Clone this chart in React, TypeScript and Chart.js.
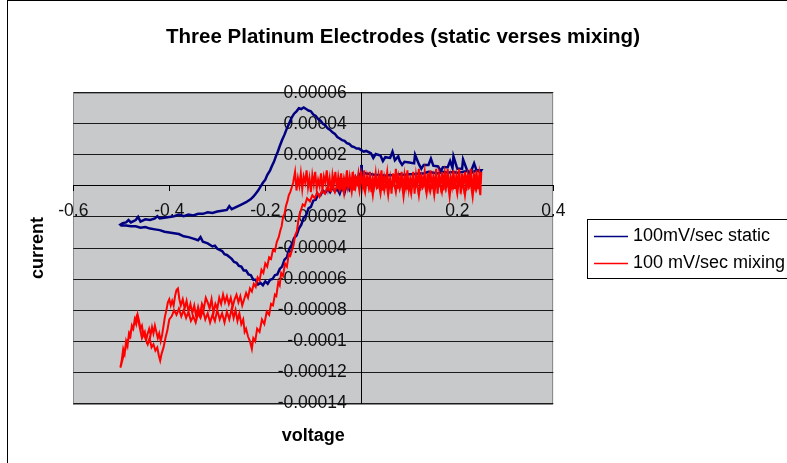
import React, { useEffect, useRef } from 'react';
import { Chart, registerables } from 'chart.js';

Chart.register(...registerables);

const TITLE = 'Three Platinum Electrodes (static verses mixing)';
const X_TITLE = 'voltage';
const Y_TITLE = 'current';
const SERIES_LABELS = ['100mV/sec static', '100 mV/sec mixing'];
const SERIES_COLORS = ['#000080', '#FF0000'];

// current values below are in units of 1e-5 (A)
const CURRENT_UNIT = 1e-5;

const xTickValues = [-0.6, -0.4, -0.2, 0, 0.2, 0.4];
const xTickLabels = ['-0.6', '-0.4', '-0.2', '0', '0.2', '0.4'];
const yTickValues = [-0.00014, -0.00012, -0.0001, -0.00008, -0.00006, -0.00004, -0.00002, 0, 0.00002, 0.00004, 0.00006];
const yTickLabels = ['-0.00014', '-0.00012', '-0.0001', '-0.00008', '-0.00006', '-0.00004', '-0.00002', '0', '0.00002', '0.00004', '0.00006'];

// static: negative-going sweep from 0 V to -0.5 V
const staticCathodic: [number, number][] = [
  [0.0, 1.35], [0.001, 0.45], [-0.004, 0.7], [-0.008, 0.3], [-0.012, 0.55], [-0.016, 0.1], [-0.02, 0.35], [-0.025, -0.2],
  [-0.03, 0.15], [-0.035, -0.45], [-0.04, -0.05], [-0.045, -0.5], [-0.05, -0.2], [-0.055, -0.35], [-0.06, -0.1], [-0.065, -0.4],
  [-0.07, -0.2], [-0.075, -0.45], [-0.08, -0.3], [-0.085, -0.6], [-0.09, -0.55], [-0.095, -0.9], [-0.1, -0.95], [-0.105, -1.35],
  [-0.11, -1.45], [-0.115, -1.9], [-0.12, -2.05], [-0.125, -2.5], [-0.13, -2.75], [-0.135, -3.2], [-0.14, -3.35], [-0.145, -3.8],
  [-0.15, -4.05], [-0.155, -4.6], [-0.16, -4.75], [-0.165, -5.2], [-0.17, -5.35], [-0.175, -5.7], [-0.18, -5.75], [-0.185, -6.0],
  [-0.19, -6.05], [-0.195, -6.3], [-0.2, -6.15], [-0.205, -6.4], [-0.21, -6.25], [-0.215, -6.35], [-0.22, -6.05], [-0.225, -6.05],
  [-0.23, -5.75], [-0.235, -5.7], [-0.24, -5.45], [-0.245, -5.45], [-0.25, -5.2], [-0.255, -5.15], [-0.26, -4.95], [-0.265, -4.9],
  [-0.27, -4.7], [-0.28, -4.45], [-0.285, -4.4], [-0.29, -4.2], [-0.3, -4.05], [-0.305, -3.85], [-0.31, -3.9], [-0.32, -3.7],
  [-0.33, -3.6], [-0.335, -3.3], [-0.34, -3.5], [-0.35, -3.4], [-0.36, -3.3], [-0.37, -3.25], [-0.38, -3.1], [-0.39, -3.05],
  [-0.4, -3.0], [-0.41, -2.95], [-0.42, -2.85], [-0.43, -2.8], [-0.44, -2.75], [-0.45, -2.65], [-0.46, -2.7], [-0.47, -2.6],
  [-0.48, -2.6], [-0.49, -2.55], [-0.5, -2.55], [-0.502, -2.5],
];

// static: positive-going sweep from -0.5 V to 0.25 V
const staticAnodic: [number, number][] = [
  [-0.497, -2.4], [-0.49, -2.35], [-0.485, -2.2], [-0.48, -2.35], [-0.47, -2.2], [-0.465, -2.0], [-0.46, -2.3], [-0.45, -2.15],
  [-0.44, -2.2], [-0.43, -2.1], [-0.425, -1.95], [-0.42, -2.1], [-0.41, -2.05], [-0.4, -2.0], [-0.39, -1.95], [-0.38, -1.85],
  [-0.37, -1.95], [-0.36, -1.85], [-0.35, -1.9], [-0.34, -1.8], [-0.33, -1.8], [-0.32, -1.7], [-0.31, -1.75], [-0.3, -1.65],
  [-0.29, -1.6], [-0.28, -1.55], [-0.275, -1.3], [-0.27, -1.5], [-0.26, -1.35], [-0.25, -1.2], [-0.24, -1.05], [-0.23, -0.85],
  [-0.225, -0.7], [-0.22, -0.5], [-0.215, -0.3], [-0.21, -0.05], [-0.205, 0.2], [-0.2, 0.4], [-0.196, 0.7], [-0.19, 1.0],
  [-0.186, 1.3], [-0.182, 1.55], [-0.178, 1.9], [-0.174, 2.2], [-0.17, 2.55], [-0.165, 2.95], [-0.16, 3.3], [-0.155, 3.7],
  [-0.15, 4.05], [-0.145, 4.4], [-0.14, 4.65], [-0.135, 4.8], [-0.13, 5.0], [-0.125, 4.95], [-0.12, 5.05], [-0.115, 4.95],
  [-0.11, 4.85], [-0.105, 4.8], [-0.1, 4.6], [-0.095, 4.5], [-0.09, 4.3], [-0.085, 4.2], [-0.08, 4.0], [-0.075, 3.9],
  [-0.07, 3.7], [-0.065, 3.6], [-0.06, 3.45], [-0.055, 3.35], [-0.05, 3.15], [-0.045, 3.05], [-0.04, 2.95], [-0.035, 2.9],
  [-0.03, 2.75], [-0.025, 2.7], [-0.02, 2.55], [-0.015, 2.5], [-0.01, 2.4], [-0.005, 2.4], [0.0, 2.3], [0.005, 2.2],
  [0.01, 2.25], [0.02, 2.1], [0.025, 1.8], [0.03, 2.05], [0.04, 1.95], [0.045, 1.6], [0.05, 1.85], [0.06, 1.8], [0.065, 2.2], [0.07, 1.65],
  [0.077, 1.9], [0.08, 1.6], [0.085, 1.35], [0.09, 1.55], [0.1, 1.5], [0.11, 1.45], [0.112, 2.0], [0.12, 1.4], [0.125, 1.1], [0.13, 1.35],
  [0.14, 1.35], [0.145, 1.75], [0.15, 1.3], [0.16, 1.25], [0.165, 0.95], [0.17, 1.2], [0.18, 1.2], [0.185, 1.6], [0.19, 1.15], [0.192, 1.9], [0.2, 1.1],
  [0.21, 1.1], [0.212, 1.7], [0.22, 1.05], [0.225, 0.8], [0.23, 1.05], [0.235, 1.45], [0.24, 1.0], [0.25, 1.0],
];

// static: return from 0.25 V to 0 V
const staticReturn: [number, number][] = [
  [0.248, 0.9], [0.24, 1.0], [0.23, 0.85], [0.22, 0.95], [0.21, 0.9], [0.2, 0.85], [0.19, 0.9], [0.18, 0.85],
  [0.17, 0.9], [0.16, 0.8], [0.15, 0.85], [0.14, 0.9], [0.13, 0.8], [0.12, 0.8], [0.11, 0.75], [0.1, 0.75],
  [0.09, 0.7], [0.08, 0.75], [0.07, 0.65], [0.06, 0.7], [0.05, 0.65], [0.04, 0.7], [0.03, 0.7], [0.02, 0.75],
  [0.01, 0.8], [0.004, 0.85],
];

// mixing: negative-going sweep from 0 V to -0.5 V
const mixingCathodic: [number, number][] = [
  [0.0, 0.9], [-0.004, -0.3], [-0.008, 0.5], [-0.012, -0.1], [-0.016, 0.6], [-0.02, -0.4], [-0.024, 0.3], [-0.028, -0.2],
  [-0.032, 0.4], [-0.036, -0.5], [-0.04, 0.2], [-0.045, -0.3], [-0.05, 0.1], [-0.055, -0.4], [-0.06, 0.0], [-0.065, -0.3],
  [-0.071, -0.1], [-0.076, -0.5], [-0.082, -0.3], [-0.087, -0.7], [-0.092, -0.4], [-0.097, -0.8], [-0.102, -0.6], [-0.107, -1.0],
  [-0.113, -0.8], [-0.118, -1.3], [-0.122, -1.2], [-0.127, -1.7], [-0.131, -2.2], [-0.134, -2.9], [-0.138, -3.2], [-0.141, -3.8],
  [-0.144, -4.1], [-0.148, -4.5], [-0.151, -4.4], [-0.155, -5.2], [-0.159, -5.0], [-0.163, -5.8], [-0.167, -5.6], [-0.17, -6.4],
  [-0.173, -6.2], [-0.177, -7.1], [-0.18, -7.0], [-0.184, -7.7], [-0.188, -7.6], [-0.192, -8.3], [-0.197, -8.1], [-0.202, -8.9],
  [-0.207, -8.6], [-0.212, -9.4], [-0.217, -9.2], [-0.221, -10.0], [-0.225, -9.8], [-0.228, -10.5], [-0.232, -10.0], [-0.236, -9.7],
  [-0.24, -9.2], [-0.243, -9.4], [-0.246, -8.6], [-0.25, -8.9], [-0.254, -8.2], [-0.258, -8.7], [-0.262, -8.0], [-0.266, -8.5],
  [-0.27, -7.9], [-0.275, -8.6], [-0.28, -8.1], [-0.285, -8.8], [-0.29, -8.2], [-0.295, -8.6], [-0.3, -8.0], [-0.305, -8.7],
  [-0.31, -8.3], [-0.315, -8.8], [-0.32, -8.2], [-0.325, -8.6], [-0.33, -8.0], [-0.335, -8.5], [-0.34, -8.2], [-0.345, -8.8],
  [-0.35, -8.4], [-0.355, -8.7], [-0.36, -8.1], [-0.365, -8.5], [-0.37, -8.0], [-0.375, -8.4], [-0.38, -7.9], [-0.385, -8.3],
  [-0.39, -8.0], [-0.395, -8.4], [-0.4, -8.6], [-0.404, -9.3], [-0.408, -9.8], [-0.412, -10.4], [-0.416, -10.8], [-0.419, -11.25],
  [-0.422, -10.9], [-0.425, -10.4], [-0.429, -10.6], [-0.433, -10.2], [-0.437, -10.4], [-0.441, -9.8], [-0.445, -10.2], [-0.449, -9.9],
  [-0.453, -9.5], [-0.457, -9.8], [-0.461, -9.2], [-0.465, -8.6], [-0.468, -8.4], [-0.472, -8.8], [-0.476, -9.2], [-0.48, -9.3],
  [-0.484, -9.8], [-0.488, -10.0], [-0.492, -10.6], [-0.496, -11.0], [-0.5, -11.5], [-0.502, -11.7],
];

// mixing: positive-going sweep from -0.5 V up the steep rise
const mixingAnodic: [number, number][] = [
  [-0.499, -11.2], [-0.496, -10.5], [-0.493, -10.8], [-0.49, -10.0], [-0.487, -10.3], [-0.484, -9.5], [-0.481, -9.7], [-0.478, -9.0],
  [-0.475, -9.2], [-0.472, -8.6], [-0.469, -8.9], [-0.466, -8.3], [-0.463, -8.7], [-0.46, -9.2], [-0.457, -9.0], [-0.454, -9.6],
  [-0.451, -9.4], [-0.448, -9.9], [-0.445, -9.5], [-0.442, -9.2], [-0.439, -9.6], [-0.436, -9.1], [-0.433, -9.5], [-0.43, -9.0],
  [-0.427, -9.4], [-0.424, -9.8], [-0.421, -9.5], [-0.418, -10.0], [-0.415, -9.6], [-0.412, -9.0], [-0.409, -8.4], [-0.406, -8.0],
  [-0.403, -7.5], [-0.4, -7.3], [-0.397, -7.7], [-0.394, -7.4], [-0.391, -7.7], [-0.388, -7.1], [-0.385, -6.7], [-0.382, -6.6],
  [-0.379, -7.3], [-0.376, -7.7], [-0.372, -7.3], [-0.368, -7.9], [-0.364, -7.4], [-0.36, -8.1], [-0.356, -7.6], [-0.352, -8.2],
  [-0.348, -7.7], [-0.344, -8.4], [-0.34, -7.8], [-0.336, -8.3], [-0.332, -7.6], [-0.328, -7.9], [-0.324, -7.2], [-0.32, -7.5],
  [-0.316, -7.9], [-0.312, -7.3], [-0.308, -8.2], [-0.304, -7.6], [-0.3, -7.9], [-0.296, -7.2], [-0.292, -7.6], [-0.288, -7.0],
  [-0.284, -7.5], [-0.28, -7.1], [-0.276, -7.6], [-0.272, -7.2], [-0.268, -7.8], [-0.264, -7.3], [-0.26, -7.0], [-0.256, -7.5],
  [-0.252, -7.1], [-0.248, -7.7], [-0.244, -7.3], [-0.24, -6.9], [-0.236, -7.2], [-0.232, -6.6], [-0.228, -6.8], [-0.224, -6.3],
  [-0.22, -6.5], [-0.216, -5.9], [-0.212, -6.1], [-0.208, -5.4], [-0.204, -5.6], [-0.2, -5.0], [-0.196, -5.2], [-0.192, -4.6],
  [-0.188, -4.7], [-0.184, -4.1], [-0.18, -4.2], [-0.176, -3.6], [-0.172, -3.3], [-0.169, -2.9], [-0.166, -2.6], [-0.163, -2.0],
  [-0.16, -1.8], [-0.157, -1.3], [-0.154, -1.0], [-0.151, -0.6], [-0.148, -0.4], [-0.145, -0.1], [-0.142, 0.2],
];

// mixing: noisy plateau from -0.14 V to 0.25 V
const mixingPlateau: [number, number][] = [
  [-0.138, 0.9], [-0.135, -0.3], [-0.132, 0.5], [-0.129, 0.0], [-0.126, 0.8], [-0.123, -0.2], [-0.12, 0.6], [-0.117, 0.2],
  [-0.114, 1.0], [-0.111, -0.1], [-0.108, 0.5], [-0.105, -0.4], [-0.102, 0.7], [-0.099, 0.1], [-0.096, 0.9], [-0.093, -0.2],
  [-0.09, 0.4], [-0.087, 0.0], [-0.084, 0.8], [-0.081, -0.3], [-0.078, 0.6], [-0.075, 0.2], [-0.072, 1.0], [-0.069, -0.1],
  [-0.066, 0.5], [-0.063, -0.4], [-0.06, 0.7], [-0.057, 0.1], [-0.054, 0.9], [-0.051, -0.2], [-0.048, 0.6], [-0.045, 0.0],
  [-0.042, 0.8], [-0.039, -0.3], [-0.036, 0.5], [-0.033, 0.1], [-0.03, 1.0], [-0.027, -0.2], [-0.024, 0.6], [-0.021, 0.0],
  [-0.018, 0.9], [-0.015, -0.3], [-0.012, 0.5], [-0.009, 0.2], [-0.006, 0.8], [-0.003, -0.1], [0.0, 0.7], [0.003, 0.0],
  [0.006, 1.0], [0.009, -0.2], [0.012, 0.6], [0.015, 0.1], [0.018, 0.9], [0.021, -0.4], [0.024, 0.5], [0.027, 0.0],
  [0.03, 0.8], [0.033, -0.2], [0.036, 0.7], [0.039, 0.1], [0.042, 1.0], [0.045, -0.3], [0.048, 0.6], [0.051, 0.2],
  [0.054, 0.9], [0.057, -0.1], [0.06, 0.5], [0.063, -0.5], [0.066, 0.8], [0.069, 0.0], [0.072, 1.1], [0.075, -0.2],
  [0.078, 0.6], [0.081, 0.1], [0.084, 0.9], [0.087, -0.4], [0.09, 0.7], [0.093, 0.0], [0.096, 1.0], [0.099, -0.2],
  [0.102, 0.5], [0.105, 0.1], [0.108, 0.9], [0.111, -0.5], [0.114, 0.7], [0.117, 0.0], [0.12, 1.1], [0.123, -0.3],
  [0.126, 0.6], [0.129, 0.2], [0.132, 0.9], [0.135, -0.4], [0.138, 0.8], [0.141, 0.0], [0.144, 1.0], [0.147, -0.2],
  [0.15, 0.6], [0.153, 0.1], [0.156, 1.1], [0.159, -0.5], [0.162, 0.7], [0.165, 0.0], [0.168, 0.9], [0.171, -0.3],
  [0.174, 0.8], [0.177, 0.1], [0.18, 1.1], [0.183, -0.4], [0.186, 0.6], [0.189, 0.0], [0.192, 1.0], [0.195, -0.2],
  [0.198, 0.7], [0.201, 0.1], [0.204, 1.1], [0.207, -0.5], [0.21, 0.8], [0.213, 0.0], [0.216, 0.9], [0.219, -0.3],
  [0.222, 0.7], [0.225, 0.2], [0.228, 1.1], [0.231, -0.4], [0.234, 0.6], [0.237, 0.0], [0.24, 1.0], [0.243, -0.2],
  [0.246, 0.8], [0.249, 0.1], [0.25, 0.9],
];

// mixing: return from 0.25 V to 0 V
const mixingReturn: [number, number][] = [
  [0.248, -0.6], [0.244, 0.3], [0.24, -0.2], [0.236, 0.5], [0.232, -0.7], [0.228, 0.2], [0.224, -0.1], [0.22, 0.4],
  [0.216, -0.6], [0.212, 0.3], [0.208, -0.3], [0.204, 0.5], [0.2, -0.5], [0.196, 0.2], [0.192, -0.1], [0.188, 0.4],
  [0.184, -0.7], [0.18, 0.3], [0.176, -0.2], [0.172, 0.5], [0.168, -0.4], [0.164, 0.2], [0.16, -0.1], [0.156, 0.4],
  [0.152, -0.6], [0.148, 0.3], [0.144, -0.3], [0.14, 0.5], [0.136, -0.5], [0.132, 0.2], [0.128, -0.1], [0.124, 0.4],
  [0.12, -0.6], [0.116, 0.3], [0.112, -0.2], [0.108, 0.5], [0.104, -0.5], [0.1, 0.2], [0.096, -0.1], [0.092, 0.4],
  [0.088, -0.7], [0.084, 0.3], [0.08, -0.2], [0.076, 0.5], [0.072, -0.4], [0.068, 0.2], [0.064, -0.1], [0.06, 0.4],
  [0.056, -0.6], [0.052, 0.3], [0.048, -0.3], [0.044, 0.5], [0.04, -0.5], [0.036, 0.2], [0.032, -0.1], [0.028, 0.4],
  [0.024, -0.6], [0.02, 0.3], [0.016, -0.2], [0.012, 0.5], [0.008, -0.4], [0.004, 0.2],
];

const FONT = "'Liberation Sans', Arial, Helvetica, sans-serif";

const toPoints = (segs: [number, number][][]) =>
  segs.flat().map(([v, c]) => ({ x: v, y: c * CURRENT_UNIT }));

const plotAreaPlugin = {
  id: 'plotArea',
  beforeDraw(chart: any) {
    const { ctx, chartArea } = chart;
    const { left, top, width, height } = chartArea;
    ctx.save();
    ctx.fillStyle = '#C8C9CB';
    ctx.fillRect(left, top, width, height);
    ctx.strokeStyle = '#8C8C8C';
    ctx.lineWidth = 1;
    ctx.strokeRect(Math.round(left) + 0.5, Math.round(top) + 0.5, Math.round(width) - 1, Math.round(height));
    ctx.restore();
  },
};

const boxLegendPlugin = {
  id: 'boxLegend',
  afterDraw(chart: any) {
    const { ctx, chartArea } = chart;
    const left = Math.round(chartArea.right + 34);
    const boxH = 59;
    const top = Math.round((chartArea.top + chartArea.bottom) / 2 - boxH / 2);
    ctx.save();
    ctx.strokeStyle = '#000';
    ctx.lineWidth = 1;
    ctx.strokeRect(left + 0.5, top + 0.5, 260, boxH);
    ctx.font = `18px ${FONT}`;
    ctx.textBaseline = 'middle';
    ctx.textAlign = 'left';
    chart.data.datasets.forEach((ds: any, i: number) => {
      const y = top + 17 + i * 27;
      ctx.strokeStyle = ds.borderColor;
      ctx.lineWidth = 1.5;
      ctx.beginPath();
      ctx.moveTo(left + 7, y + 0.5);
      ctx.lineTo(left + 41, y + 0.5);
      ctx.stroke();
      ctx.fillStyle = '#000';
      ctx.fillText(ds.label, left + 46, y);
    });
    ctx.restore();
  },
};

export default function App() {
  const ref = useRef<HTMLCanvasElement>(null);

  useEffect(() => {
    if (!ref.current) return;
    const chart = new Chart(ref.current, {
      type: 'scatter',
      data: {
        datasets: [
          {
            label: SERIES_LABELS[0],
            data: toPoints([staticCathodic, staticAnodic, staticReturn]),
            borderColor: SERIES_COLORS[0],
            backgroundColor: SERIES_COLORS[0],
            showLine: true,
            borderWidth: 2.5,
            pointRadius: 0,
            tension: 0,
            order: 1,
          },
          {
            label: SERIES_LABELS[1],
            data: toPoints([mixingCathodic, mixingAnodic, mixingPlateau, mixingReturn]),
            borderColor: SERIES_COLORS[1],
            backgroundColor: SERIES_COLORS[1],
            showLine: true,
            borderWidth: 2,
            pointRadius: 0,
            tension: 0,
            order: 0,
          },
        ],
      },
      options: {
        animation: false,
        responsive: false,
        devicePixelRatio: 1,
        layout: { padding: 0 },
        font: { family: FONT },
        plugins: {
          legend: { display: false },
          tooltip: { enabled: false },
          title: {
            display: true,
            text: TITLE,
            color: '#000',
            font: { family: FONT, size: 20.5, weight: 'bold' },
            padding: { top: 23.7, bottom: 43.4 },
          },
        },
        scales: {
          x: {
            type: 'linear',
            position: { y: 0 } as any,
            min: -0.6,
            max: 0.4,
            afterBuildTicks: (s: any) => {
              s.ticks = xTickValues.map((v) => ({ value: v }));
            },
            ticks: {
              callback: (_v: any, i: number) => xTickLabels[i],
              autoSkip: false,
              maxRotation: 0,
              color: '#111',
              padding: 10,
              font: { family: FONT, size: 17.5 },
            },
            grid: { drawOnChartArea: false, drawTicks: true, tickLength: 5, color: '#000' },
            border: { display: true, color: '#000', width: 1 },
          },
          y: {
            type: 'linear',
            position: { x: 0 } as any,
            min: -0.00014,
            max: 0.00006,
            afterBuildTicks: (s: any) => {
              s.ticks = yTickValues.map((v) => ({ value: v }));
            },
            ticks: {
              // trailing spaces keep the right-aligned labels clear of the tick marks
              callback: (_v: any, i: number) => yTickLabels[i] + '   ',
              autoSkip: false,
              color: '#111',
              padding: 9,
              font: { family: FONT, size: 17.5 },
            },
            grid: { drawOnChartArea: true, drawTicks: true, tickLength: 5, color: '#1a1a1a', lineWidth: 1 },
            border: { display: true, color: '#000', width: 1 },
          },
          yTitle: {
            type: 'linear',
            position: 'left',
            display: true,
            ticks: { display: false },
            grid: { display: false, drawTicks: false },
            border: { display: false },
            title: {
              display: true,
              text: Y_TITLE,
              color: '#000',
              font: { family: FONT, size: 18, weight: 'bold' },
              padding: { top: 19.2, bottom: 24.5 },
            },
          },
          xTitle: {
            type: 'linear',
            position: 'bottom',
            display: true,
            ticks: { display: false },
            grid: { display: false, drawTicks: false },
            border: { display: false },
            title: {
              display: true,
              text: X_TITLE,
              color: '#000',
              font: { family: FONT, size: 18, weight: 'bold' },
              padding: { top: 21.9, bottom: 22.2 },
            },
          },
          legendSpace: {
            type: 'linear',
            position: 'right',
            display: true,
            ticks: { display: false },
            grid: { display: false, drawTicks: false },
            border: { display: false },
            afterFit: (s: any) => {
              s.width = 244.7;
            },
          },
        },
      } as any,
      plugins: [plotAreaPlugin, boxLegendPlugin],
    });
    return () => chart.destroy();
  }, []);

  return (
    <div style={{ position: 'fixed', left: 0, top: 0, width: 787, height: 463, overflow: 'hidden', background: '#fff' }}>
      <div
        style={{
          position: 'absolute',
          left: 7,
          top: 0,
          width: 790,
          height: 468,
          borderLeft: '1px solid #000',
          borderTop: '1px solid #000',
          background: '#fff',
        }}
      >
        <canvas ref={ref} width={790} height={468} style={{ display: 'block', width: 790, height: 468 }} />
      </div>
    </div>
  );
}
